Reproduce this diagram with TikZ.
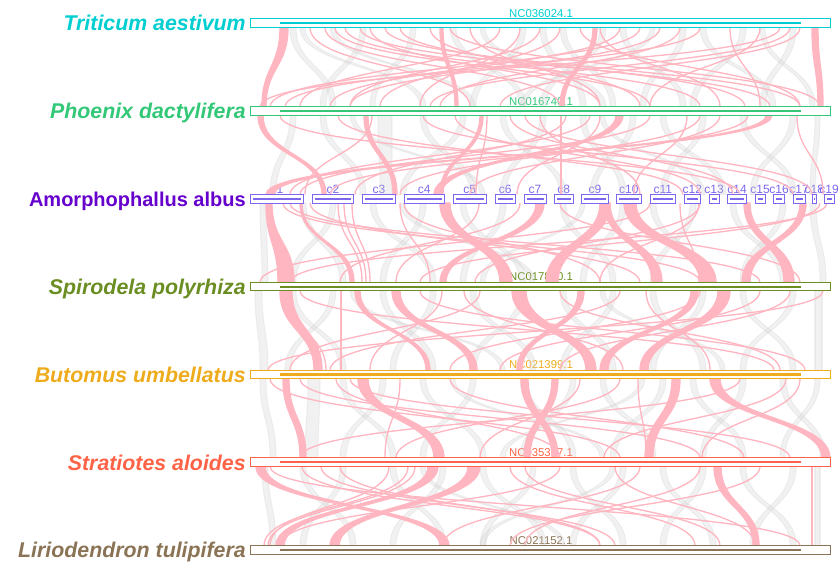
\documentclass[tikz,border=0pt]{standalone}
\usepackage{fontspec}
\setmainfont{Liberation Sans}

\definecolor{cTa}{RGB}{0,206,209}
\definecolor{cPd}{RGB}{50,200,120}
\definecolor{cAa}{RGB}{102,0,204}
\definecolor{cSeg}{RGB}{123,104,238}
\definecolor{cSp}{RGB}{107,142,35}
\definecolor{cBu}{RGB}{238,172,28}
\definecolor{cSa}{RGB}{255,99,71}
\definecolor{cLt}{RGB}{139,115,85}
\definecolor{linkpink}{RGB}{255,182,193}
\definecolor{linkgray}{RGB}{205,205,205}

\tikzset{
  pinklink/.style={fill=linkpink,draw=linkpink,line width=1pt},
  graylink/.style={fill=linkgray,draw=linkgray,line width=0.8pt,opacity=0.27},
  trackbox/.style={draw,fill=white,line width=0.75pt,inner sep=0pt,
    minimum width=435pt,minimum height=6.4pt},
  segbox/.style={draw=cSeg,fill=white,line width=0.75pt,inner sep=0pt,minimum height=6.4pt},
  seqlabel/.style={anchor=base,inner sep=0pt,font=\fontsize{8.5}{10}\selectfont},
  seglabel/.style={anchor=base,inner sep=0pt,text=cSeg,font=\fontsize{9}{10}\selectfont},
  species/.style={anchor=base east,inner sep=0pt,font=\fontsize{16}{19}\selectfont\bfseries\itshape},
}

% ribbon between two tracks: style, y upper, y lower, upper span a1..a2, lower span b1..b2
\newcommand\ribbon[7]{%
  \path[#1] (#4,#2) .. controls (#4,{(#2+#3)/2}) and (#6,{(#2+#3)/2}) .. (#6,#3)
    -- (#7,#3) .. controls (#7,{(#2+#3)/2}) and (#5,{(#2+#3)/2}) .. (#5,#2) -- cycle;}

% full-length track: name, colour, top y
\newcommand\track[3]{%
  \node[trackbox,draw=#2] (#1) at (540,{#3+4.25}) {};
  \draw[#2,line width=1.65pt] (280,{#3+4.25}) -- (801,{#3+4.25});}

\begin{document}
\begin{tikzpicture}[x=0.75pt,y=-0.75pt]
\useasboundingbox (0,0) rectangle (840,564);

% accession labels (links pass over them)
\node[seqlabel,text=cTa] (accTa) at (541,17.5) {NC036024.1};
\node[seqlabel,text=cPd] (accPd) at (541,105.3) {NC016740.1};
\node[seqlabel,text=cSp] (accSp) at (541,280.9) {NC017840.1};
\node[seqlabel,text=cBu] (accBu) at (541,368.7) {NC021399.1};
\node[seqlabel,text=cSa] (accSa) at (541,456.5) {NC035317.1};
\node[seqlabel,text=cLt] (accLt) at (541,544.3) {NC021152.1};

% segment labels of the fragmented genome
\foreach \xa/\xb/\lab in {250.7/303.3/c1,312.7/353.3/c2,362.7/395/c3,404.3/444/c4,
  453.3/486/c5,495.3/515.3/c6,524/546/c7,554.3/573.3/c8,581.7/608/c9,616.7/641/c10,
  650/675.7/c11,684/700.7/c12,709/719/c13,727.3/746.7/c14,755/765/c15,773.3/784.7/c16,
  793.3/805/c17,812.7/816/c18,824.3/834/c19}
  {\node[seglabel] (lab\lab) at ({(\xa+\xb)/2},193.5) {\lab};}

% ---------- grey (non-target) ribbons ----------
\foreach \a/\b/\c/\d in {290/296/330/336,300/305/420/426,360/366/320/326,410/416/370/375,
  450/456/520/526,480/485/600/606,520/526/470/476,560/566/610/616,600/606/540/546,
  620/626/680/686,680/686/640/646,700/706/770/776,740/746/690/696,790/796/760/766,
  650/655/520/525,330/335/470/475,760/765/810/815,540/546/580/586}
  {\ribbon{graylink}{27.5}{106.8}{\a}{\b}{\c}{\d}}
\foreach \a/\b/\c/\d in {290/296/270/276,320/326/360/366,378/392/380/392,420/426/470/476,
  460/466/400/406,500/506/560/566,540/546/500/506,580/586/620/626,630/636/590/596,
  660/666/720/726,700/706/660/666,740/746/790/796,790/796/750/756,815/820/810/815,
  350/355/480/485,600/605/700/705}
  {\ribbon{graylink}{115.3}{194.6}{\a}{\b}{\c}{\d}}
\foreach \a/\b/\c/\d in {260/266/262/268,300/306/340/346,330/336/290/296,370/376/430/436,
  420/426/380/386,460/466/520/526,500/506/460/466,560/566/610/616,620/626/580/586,
  650/656/700/706,690/696/650/656,730/736/780/786,780/786/740/746,810/816/820/826,
  400/405/530/535,580/585/480/485}
  {\ribbon{graylink}{203.1}{282.4}{\a}{\b}{\c}{\d}}
\foreach \a/\b/\c/\d in {255/262/260/268,290/296/340/346,330/336/285/291,380/386/430/436,
  430/436/390/396,470/476/530/536,520/526/470/476,560/566/610/616,610/616/560/566,
  650/656/700/706,700/706/650/656,740/746/790/796,790/796/740/746,815/822/815/822,
  350/355/500/505,600/605/720/725}
  {\ribbon{graylink}{290.9}{370.2}{\a}{\b}{\c}{\d}}
\foreach \a/\b/\c/\d in {308/320/305/318,260/266/270/276,340/346/390/396,380/386/340/346,
  420/426/480/486,470/476/420/426,520/526/570/576,570/576/520/526,600/606/650/656,
  660/666/610/616,690/696/740/746,740/746/700/706,780/786/820/826,815/820/780/785,
  450/455/600/605,640/645/500/505}
  {\ribbon{graylink}{378.7}{458}{\a}{\b}{\c}{\d}}
\foreach \a/\b/\c/\d in {262/268/270/276,300/306/350/356,340/346/300/306,390/396/440/446,
  440/446/390/396,480/486/540/546,530/536/480/486,570/576/620/626,620/626/570/576,
  660/666/710/716,700/706/660/666,740/746/790/796,790/796/750/756,815/820/815/820,
  420/425/560/565,610/615/480/485}
  {\ribbon{graylink}{466.5}{545.8}{\a}{\b}{\c}{\d}}

% ---------- pink (target) ribbons ----------
% Triticum -> Phoenix
\foreach \a/\b/\c/\d in {280/288/262/266,310/310/470/470,325/325/560/560,345/345/700/700,
  360/360/770/770,385/385/800/800,400/400/745/745,430/430/640/640,470/470/600/600,
  500/500/300/300,520/520/420/420,593/597/560/564,620/620/330/330,640/640/270/270,
  700/700/285/285,730/730/760/760,760/760/650/650,780/780/260/260,790/790/430/430,
  812/818/818/823,600/600/720/720,440/443/455/458,335/335/650/650,540/540/350/350,
  560/560/380/380,680/680/440/440,800/800/500/500,370/370/600/600,450/450/820/820,
  580/580/800/800,660/660/350/350}
  {\ribbon{pinklink}{27.5}{106.8}{\a}{\b}{\c}{\d}}
% Phoenix -> Amorphophallus
\foreach \a/\b/\c/\d in {258/263/322/326,766/772/266/274,364/368/393/397,372/372/305/305,
  338/338/683/683,423/423/793/793,487/487/476/476,561/561/561/561,616/623/434/441,
  510/510/733/733,525/525/812/812,566/566/355/355,600/600/517/517,687/687/634/634,
  748/748/330/330,797/797/823/823,455/455/700/700,650/650/300/300,700/700/400/400,
  480/483/440/443,540/540/640/640,720/720/470/470,280/280/740/740,590/590/290/290}
  {\ribbon{pinklink}{115.3}{194.6}{\a}{\b}{\c}{\d}}
% Amorphophallus -> Spirodela
\foreach \a/\b/\c/\d in {266/272/278/294,283/283/700/700,300/302/350/354,338/338/362/362,
  344/344/366/366,352/352/370/370,404/404/600/600,440/450/500/512,600/610/546/558,
  479/479/396/396,536/544/440/446,604/610/652/662,624/636/700/716,680/680/699/699,
  699/699/600/600,744/750/784/794,800/806/742/750,827/827/290/290,820/820/420/420,
  310/310/640/640,650/650/260/260,700/700/475/475,560/560/800/800,520/520/340/340,
  400/400/430/430,290/290/760/760}
  {\ribbon{pinklink}{203.1}{282.4}{\a}{\b}{\c}{\d}}
% Spirodela -> Butomus
\foreach \a/\b/\c/\d in {280/292/314/322,283/283/326/326,341/341/341/341,355/360/426/430,
  392/400/470/477,442/442/370/370,464/464/623/623,512/526/586/596,578/584/517/522,
  646/646/710/710,691/698/600/608,718/730/640/648,823/823/268/268,300/300/774/774,
  420/420/805/805,480/480/290/290,560/560/780/780,620/620/330/330,700/700/450/450,
  760/760/500/500,790/790/560/560}
  {\ribbon{pinklink}{290.9}{370.2}{\a}{\b}{\c}{\d}}
% Butomus -> Stratiotes
\foreach \a/\b/\c/\d in {283/289/300/306,336/336/560/560,358/368/434/444,521/528/552/558,
  552/558/524/530,638/638/646/646,672/680/645/653,710/720/822/830,786/786/604/604,
  270/270/620/620,300/300/700/700,400/400/385/385,450/450/744/744,620/620/396/396,
  740/740/300/300,800/800/702/702,580/580/480/480,350/350/790/790}
  {\ribbon{pinklink}{378.7}{458}{\a}{\b}{\c}{\d}}
% Stratiotes -> Liriodendron
\foreach \a/\b/\c/\d in {256/265/440/449,302/302/600/600,321/321/615/615,389/389/270/270,
  408/408/264/264,415/415/268/268,428/438/276/284,468/480/330/339,510/510/695/695,
  525/525/720/720,615/615/755/755,714/721/753/759,812/812/812/812,700/700/525/525,
  760/760/510/510,560/560/280/280,640/640/443/443,340/340/600/600,270/270/800/800}
  {\ribbon{pinklink}{466.5}{545.8}{\a}{\b}{\c}{\d}}

% ---------- tracks ----------
\track{tTa}{cTa}{19}
\track{tPd}{cPd}{106.8}
\track{tSp}{cSp}{282.4}
\track{tBu}{cBu}{370.2}
\track{tSa}{cSa}{458}
\track{tLt}{cLt}{545.8}

% fragmented genome: one box per contig
\foreach \xa/\xb/\lab in {250.7/303.3/c1,312.7/353.3/c2,362.7/395/c3,404.3/444/c4,
  453.3/486/c5,495.3/515.3/c6,524/546/c7,554.3/573.3/c8,581.7/608/c9,616.7/641/c10,
  650/675.7/c11,684/700.7/c12,709/719/c13,727.3/746.7/c14,755/765/c15,773.3/784.7/c16,
  793.3/805/c17,812.7/816/c18,824.3/834/c19}
{
  \pgfmathsetmacro\segw{(\xb-\xa)*0.75}
  \node[segbox,minimum width=\segw pt] (seg\lab) at ({(\xa+\xb)/2},198.85) {};
  \draw[cSeg,line width=1.65pt] ({\xa+2.5},198.85) -- ({\xb-2.5},198.85);
}

% species names
\node[species,text=cTa] (spTa) at (246,31) {Triticum aestivum};
\node[species,text=cPd] (spPd) at (246,118.8) {Phoenix dactylifera};
\node[anchor=base east,inner sep=0pt,text=cAa,font=\fontsize{15}{18}\selectfont\bfseries] (spAa) at (246,206) {Amorphophallus albus};
\node[species,text=cSp] (spSp) at (246,294.4) {Spirodela polyrhiza};
\node[species,text=cBu] (spBu) at (246,382.2) {Butomus umbellatus};
\node[species,text=cSa] (spSa) at (246,470) {Stratiotes aloides};
\node[species,text=cLt] (spLt) at (246,557.8) {Liriodendron tulipifera};
\end{tikzpicture}
\end{document}
